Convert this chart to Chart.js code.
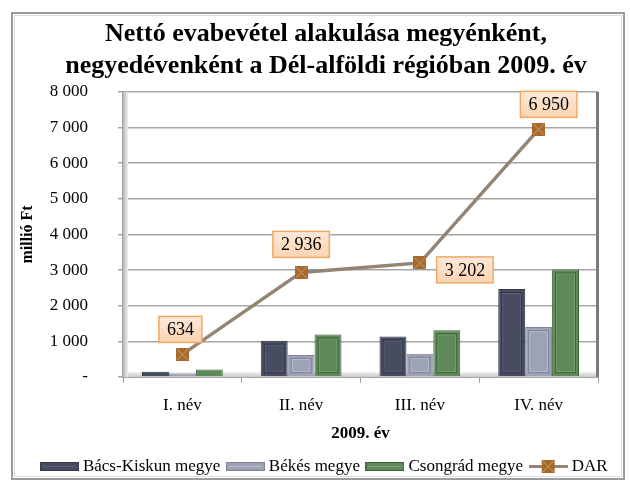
<!DOCTYPE html>
<html>
<head>
<meta charset="utf-8">
<script src="https://cdn.jsdelivr.net/npm/chart.js@4"></script>
<style>
  html, body { margin: 0; padding: 0; background: #fff; }
  #wrap { width: 630px; height: 482px; }
</style>
</head>
<body>
<div id="wrap"><canvas id="chart" width="630" height="482"></canvas></div>
<script>
// quarters and series
var quarters = ['I. név', 'II. név', 'III. név', 'IV. név'];
var bacsKiskun = [150, 1020, 1140, 2470];
var bekes = [100, 620, 650, 1400];
var csongrad = [210, 1190, 1310, 3020];
var dar = [634, 2936, 3202, 6950];
var yTicks = [0, 1000, 2000, 3000, 4000, 5000, 6000, 7000, 8000];

var serif = "'Liberation Serif', 'Times New Roman', serif";

function fmt(v) {
  if (v === 0) return '-';
  return String(v).replace(/\B(?=(\d{3})+(?!\d))/g, ' ');
}

// small images for legend keys and line markers
function barKey(fill, edge, light) {
  var c = document.createElement('canvas');
  c.width = 39; c.height = 9;
  var g = c.getContext('2d');
  g.fillStyle = edge; g.fillRect(0, 0, 39, 9);
  g.fillStyle = fill; g.fillRect(1, 1, 37, 7);
  g.fillStyle = light; g.fillRect(3, 4, 33, 1);
  return c;
}
function marker() {
  var c = document.createElement('canvas');
  c.width = 13; c.height = 13;
  var g = c.getContext('2d');
  g.fillStyle = '#a8692b'; g.fillRect(0, 0, 13, 13);
  g.strokeStyle = '#c9a27c'; g.lineWidth = 1;
  g.beginPath(); g.moveTo(1, 1); g.lineTo(12, 12); g.moveTo(12, 1); g.lineTo(1, 12); g.stroke();
  return c;
}
function lineKey() {
  var c = document.createElement('canvas');
  c.width = 39; c.height = 13;
  var g = c.getContext('2d');
  g.fillStyle = '#948474'; g.fillRect(0, 5, 39, 3);
  g.drawImage(marker(), 13, 0);
  return c;
}

var colors = [
  {fill: '#474c61', edge: '#333747', light: '#5c6178'},
  {fill: '#9da2b6', edge: '#7f8397', light: '#b9bdcc'},
  {fill: '#5e8a59', edge: '#3f613c', light: '#77a372'}
];

var framePlugin = {
  id: 'frame',
  beforeDraw: function(chart) {
    var c = chart.ctx;
    c.save();
    c.fillStyle = '#fff';
    c.fillRect(0, 0, chart.width, chart.height);
    c.strokeStyle = '#9c9c9c'; c.lineWidth = 2;
    c.strokeRect(12, 13, 612, 466);
    c.strokeStyle = '#dcdcdc'; c.lineWidth = 1;
    c.strokeRect(14.5, 15.5, 607, 461);
    c.restore();
  },
  beforeDatasetsDraw: function(chart) {
    var a = chart.chartArea, c = chart.ctx;
    c.save();
    var g = c.createLinearGradient(0, a.bottom - 5, 0, a.bottom);
    g.addColorStop(0, '#f2f2f2'); g.addColorStop(1, '#c8c8c8');
    c.fillStyle = g;
    c.fillRect(a.left, a.bottom - 5, a.right - a.left, 5);
    var h = c.createLinearGradient(a.left, 0, a.left + 5, 0);
    h.addColorStop(0, '#b8b8b8'); h.addColorStop(1, '#f0f0f0');
    c.fillStyle = h;
    c.fillRect(a.left, a.top, 5, a.bottom - a.top);
    c.fillStyle = '#7a7a7a';
    c.fillRect(a.right - 2, a.top, 3, a.bottom - a.top);
    c.restore();
  }
};

var bevelPlugin = {
  id: 'bevel',
  afterDatasetsDraw: function(chart) {
    var c = chart.ctx;
    c.save();
    for (var d = 0; d < 3; d++) {
      var meta = chart.getDatasetMeta(d);
      meta.data.forEach(function(bar) {
        var w = bar.width, x0 = bar.x - w / 2, y0 = bar.y, hgt = bar.base - bar.y;
        if (hgt < 10) return;
        c.strokeStyle = colors[d].light; c.lineWidth = 1;
        c.strokeRect(x0 + 4.5, y0 + 4.5, w - 9, hgt - 9);
        c.strokeStyle = colors[d].edge;
        c.strokeRect(x0 + 3.5, y0 + 3.5, w - 7, hgt - 7);
      });
    }
    c.restore();
  }
};

var labelPlugin = {
  id: 'darLabels',
  afterDatasetsDraw: function(chart, args, opts) {
    var c = chart.ctx;
    var meta = chart.getDatasetMeta(3);
    c.save();
    c.font = '18px ' + serif;
    c.textAlign = 'center';
    c.textBaseline = 'middle';
    meta.data.forEach(function(pt, i) {
      var off = opts.offsets[i];
      var txt = fmt(dar[i]);
      var w = c.measureText(txt).width + 16, h = 26;
      var cx = pt.x + off[0], cy = pt.y + off[1];
      var g = c.createLinearGradient(0, cy - h / 2, 0, cy + h / 2);
      g.addColorStop(0, '#fde9da'); g.addColorStop(1, '#fbd3b0');
      c.fillStyle = g;
      c.fillRect(cx - w / 2, cy - h / 2, w, h);
      c.strokeStyle = '#f0a965'; c.lineWidth = 1.5;
      c.strokeRect(cx - w / 2, cy - h / 2, w, h);
      c.fillStyle = '#000';
      c.fillText(txt, cx, cy + 1);
    });
    c.restore();
  }
};

var barSets = [
  {name: 'Bács-Kiskun megye', data: bacsKiskun},
  {name: 'Békés megye', data: bekes},
  {name: 'Csongrád megye', data: csongrad}
].map(function(s, i) {
  return {
    type: 'bar',
    label: s.name,
    data: s.data,
    backgroundColor: colors[i].fill,
    borderColor: colors[i].edge,
    borderWidth: 1,
    categoryPercentage: 0.68,
    barPercentage: 1.0,
    order: 2
  };
});

var legendImages = [
  barKey(colors[0].fill, colors[0].edge, colors[0].light),
  barKey(colors[1].fill, colors[1].edge, colors[1].light),
  barKey(colors[2].fill, colors[2].edge, colors[2].light),
  lineKey()
];

new Chart(document.getElementById('chart').getContext('2d'), {
  data: {
    labels: quarters,
    datasets: barSets.concat([{
      type: 'line',
      label: 'DAR',
      data: dar,
      borderColor: '#948474',
      borderWidth: 3.5,
      pointStyle: marker(),
      pointRadius: 6,
      pointHoverRadius: 6,
      tension: 0,
      order: 1
    }])
  },
  options: {
    responsive: false,
    animation: false,
    layout: {padding: {left: 22, right: 0, top: 13, bottom: -3}},
    plugins: {
      title: {
        display: true,
        text: ['Nettó evabevétel alakulása megyénként,', 'negyedévenként a Dél-alföldi régióban 2009. év'],
        color: '#000',
        font: {family: serif, size: 26, weight: 'bold', lineHeight: 1.23},
        padding: {top: 5, bottom: 10}
      },
      legend: {
        position: 'bottom',
        labels: {
          usePointStyle: true,
          pointStyleWidth: 30,
          padding: 10,
          color: '#000',
          font: {family: serif, size: 17},
          generateLabels: function(chart) {
            return chart.data.datasets.map(function(ds, i) {
              return {text: ds.label, pointStyle: legendImages[i], datasetIndex: i,
                      fillStyle: '#000', strokeStyle: '#000', lineWidth: 0, hidden: false};
            });
          }
        }
      },
      tooltip: {enabled: false},
      darLabels: {offsets: [[-2, -25], [0, -28], [45, 7], [10, -25]]}
    },
    scales: {
      x: {
        afterFit: function(s) { s.height = 71; },
        grid: {display: true, drawOnChartArea: false, drawTicks: true, tickLength: 6, color: '#a0a0a0', offset: true},
        border: {display: true, color: '#a8a8a8', width: 2},
        ticks: {color: '#000', padding: 12, font: {family: serif, size: 17}},
        title: {display: true, text: '2009. év', color: '#000', font: {family: serif, size: 17, weight: 'bold'}, padding: {top: 0, bottom: 4}}
      },
      y: {
        min: 0,
        max: 8000,
        afterFit: function(s) { s.width = 101; },
        afterBuildTicks: function(s) { s.ticks = yTicks.map(function(v) { return {value: v}; }); },
        grid: {color: '#a6a6a6', lineWidth: 1.5, tickLength: 5},
        border: {display: true, color: '#a0a0a0', width: 2},
        ticks: {color: '#000', padding: 30, font: {family: serif, size: 17}, callback: function(v) { return fmt(v); }},
        title: {display: true, text: 'millió Ft', color: '#000', font: {family: serif, size: 16, weight: 'bold'}, padding: {top: -4, bottom: 0}}
      },
      // empty right-hand margin of the plot wall
      yRight: {
        position: 'right',
        afterFit: function(s) { s.width = 32; },
        grid: {display: false},
        border: {display: false},
        ticks: {display: false}
      }
    }
  },
  plugins: [framePlugin, bevelPlugin, labelPlugin]
});
</script>
</body>
</html>
